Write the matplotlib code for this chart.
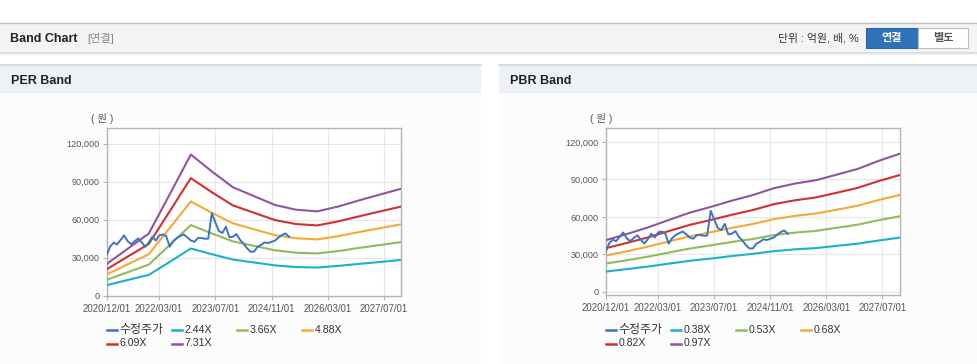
import matplotlib
matplotlib.use('Agg')
import matplotlib.pyplot as plt
from matplotlib.patches import Rectangle
from matplotlib.lines import Line2D
from matplotlib.ticker import FuncFormatter
import pandas as pd

plt.rcParams['font.family'] = ['Liberation Sans', 'Noto Sans CJK KR', 'DejaVu Sans']

# ---------------- data ----------------
band_dates = ['2020-12-01', '2021-06-01', '2021-12-01', '2022-06-01', '2022-12-01',
              '2023-06-01', '2023-12-01', '2024-06-01', '2024-12-01', '2025-06-01',
              '2025-12-01', '2026-06-01', '2026-12-01', '2027-06-01', '2027-12-01']

per_labels = ['2.44X', '3.66X', '4.88X', '6.09X', '7.31X']
per_244 = [8300, 12400, 16400, 26700, 37200, 32700, 28500, 26200, 23900, 22600, 22200, 23500, 25100, 26600, 28200]
per_366 = [12500, 18500, 24500, 40100, 55700, 49100, 42800, 39300, 35800, 33900, 33300, 35200, 37700, 40000, 42300]
per_488 = [16700, 24700, 32700, 53400, 74300, 65400, 57100, 52400, 47700, 45300, 44400, 46900, 50200, 53300, 56300]
per_609 = [20800, 30800, 40800, 66600, 92700, 81600, 71200, 65400, 59600, 56500, 55400, 58600, 62600, 66500, 70300]
per_731 = [25000, 37000, 49000, 80000, 111300, 98000, 85500, 78500, 71500, 67800, 66500, 70300, 75200, 79800, 84400]

pbr_labels = ['0.38X', '0.53X', '0.68X', '0.82X', '0.97X']
pbr_038 = [16200, 18100, 20200, 22500, 24800, 26600, 28600, 30400, 32500, 34000, 35000, 36800, 38600, 41100, 43400]
pbr_053 = [22600, 25200, 28100, 31400, 34600, 37200, 39900, 42300, 45400, 47400, 48800, 51300, 53800, 57400, 60500]
pbr_068 = [29000, 32400, 36100, 40300, 44400, 47700, 51200, 54300, 58200, 60800, 62700, 65800, 69000, 73600, 77600]
pbr_082 = [34900, 39100, 43500, 48600, 53600, 57500, 61700, 65500, 70200, 73300, 75600, 79400, 83300, 88800, 93600]
pbr_097 = [41300, 46200, 51500, 57500, 63400, 68000, 73000, 77500, 83000, 86700, 89400, 93900, 98500, 105000, 110700]

price_label = '수정주가'
price_dates = pd.date_range('2020-12-01', periods=53, freq='MS')
price = [32000, 39000, 41800, 40500, 44000, 47500, 43000, 40500, 43000, 45200,
         42000, 38600, 42000, 46500, 43500, 47500, 48300, 47000, 38600, 43000,
         45500, 47000, 48300, 46000, 43500, 42500, 45500, 45500, 44900, 45000,
         64900, 58000, 51000, 49500, 54400, 46000, 46500, 48600, 44000, 41200,
         37500, 34700, 34700, 38500, 40000, 42000, 41500, 42500, 43500, 46000,
         48000, 49100, 46500]

tick_dates = ['2020-12-01', '2022-03-01', '2023-07-01', '2024-11-01', '2026-03-01', '2027-07-01']
tick_labels = ['2020/12/01', '2022/03/01', '2023/07/01', '2024/11/01', '2026/03/01', '2027/07/01']
y_ticks = [0, 30000, 60000, 90000, 120000]

price_color = '#3b74c4'
band_colors = ['#1bb2c6', '#93bb58', '#f5a936', '#d1312e', '#9254a1']

# ---------------- figure ----------------
W, H = 978, 364
fig = plt.figure(figsize=(W / 100, H / 100), dpi=100)
fig.patch.set_facecolor('white')


def rect(x0, y0, x1, y1, **kw):
    fig.patches.append(Rectangle((x0 / W, 1 - y1 / H), (x1 - x0) / W, (y1 - y0) / H,
                                 transform=fig.transFigure, figure=fig, zorder=-10, **kw))


def hline(x0, x1, y, color, lw=1.0):
    fig.lines.append(Line2D([x0 / W, x1 / W], [1 - y / H, 1 - y / H], transform=fig.transFigure,
                            color=color, lw=lw, figure=fig, zorder=-5))


def text(x, y, s, **kw):
    fig.text(x / W, 1 - y / H, s, **kw)


# top header bar
rect(0, 22, W, 52, facecolor='#f4f4f4', edgecolor='none')
hline(0, W, 22.5, '#c4c4c4', 1.0)
hline(0, W, 52.5, '#d2d2d2', 1.2)
hline(0, W, 54, '#ececec', 1.2)
text(10, 38.5, 'Band Chart', fontsize=9, fontweight='bold', color='#222222', va='center', ha='left')
text(87, 38.5, '[연결]', fontsize=8, color='#888888', va='center', ha='left')
text(859, 38.5, '단위 : 억원, 배, %', fontsize=7.8, color='#333333', va='center', ha='right')
rect(866, 28.5, 918, 47.5, facecolor='#2e72b8', edgecolor='#2a68a8', lw=0.8)
rect(918, 28.5, 968, 47.5, facecolor='#ffffff', edgecolor='#bdbdbd', lw=0.8)
text(892, 38, '연결', fontsize=8, fontweight='bold', color='white', va='center', ha='center')
text(943, 38, '별도', fontsize=8, fontweight='bold', color='#555555', va='center', ha='center')

# panels
for (px0, px1, title) in [(0, 481, 'PER Band'), (499, W, 'PBR Band')]:
    rect(px0, 93, px1, H, facecolor='#fcfcfc', edgecolor='none')
    rect(px0, 64, px1, 93, facecolor='#eef2f7', edgecolor='none')
    hline(px0, px1, 64.5, '#d4d8de', 1.2)
    text(px0 + 11, 80.5, title, fontsize=9, fontweight='bold', color='#222222', va='center', ha='left')

bd = pd.to_datetime(band_dates)
td = pd.to_datetime(tick_dates)


def make_axes(left, right, top, bottom, ymin, ymax, bands, labels, unit_x):
    ax = fig.add_axes([left / W, 1 - bottom / H, (right - left) / W, (bottom - top) / H])
    ax.set_zorder(5)
    ax.set_facecolor('white')
    ax.plot(price_dates, price, color=price_color, lw=1.4, zorder=5)
    for vals, c in zip(bands, band_colors):
        ax.plot(bd, vals, color=c, lw=1.5, zorder=3)
    ax.set_xlim(pd.Timestamp('2020-12-01'), pd.Timestamp('2027-12-01'))
    ax.set_ylim(ymin, ymax)
    ax.set_xticks(td)
    ax.set_xticklabels(tick_labels)
    ax.set_yticks(y_ticks)
    ax.yaxis.set_major_formatter(FuncFormatter(lambda v, p: f'{int(v):,}'))
    ax.grid(True, color='#e6e6e6', lw=0.8)
    ax.set_axisbelow(True)
    for s in ax.spines.values():
        s.set_color('#b4b4b4')
        s.set_linewidth(1.0)
    ax.tick_params(axis='both', colors='#b4b4b4', labelcolor='#555555', labelsize=6.6,
                   length=3, width=0.8, pad=2)
    ax.tick_params(axis='x', labelsize=6.9, pad=3)
    text(unit_x, 119, '( 원 )', fontsize=7.5, color='#555555', va='center', ha='left')
    # legend (drawn manually in pixel layout)
    items = [(price_label, price_color)] + list(zip(labels, band_colors))
    for i, (lab, c) in enumerate(items):
        row, col = divmod(i, 4)
        x = left + col * 65
        y = 330 + row * 13.5
        hline(x, x + 10, y, c, 1.8)
        text(x + 13, y, lab, fontsize=8.6 if i == 0 else 7.6, color='#333333', va='center', ha='left')
    return ax


make_axes(106.7, 401.3, 128.3, 295.7, 0, 132000,
          [per_244, per_366, per_488, per_609, per_731], per_labels, 91)
make_axes(605.7, 900.0, 128.3, 295.0, -2600, 131000,
          [pbr_038, pbr_053, pbr_068, pbr_082, pbr_097], pbr_labels, 590)

fig.savefig('out.png', dpi=100, facecolor=fig.get_facecolor())
